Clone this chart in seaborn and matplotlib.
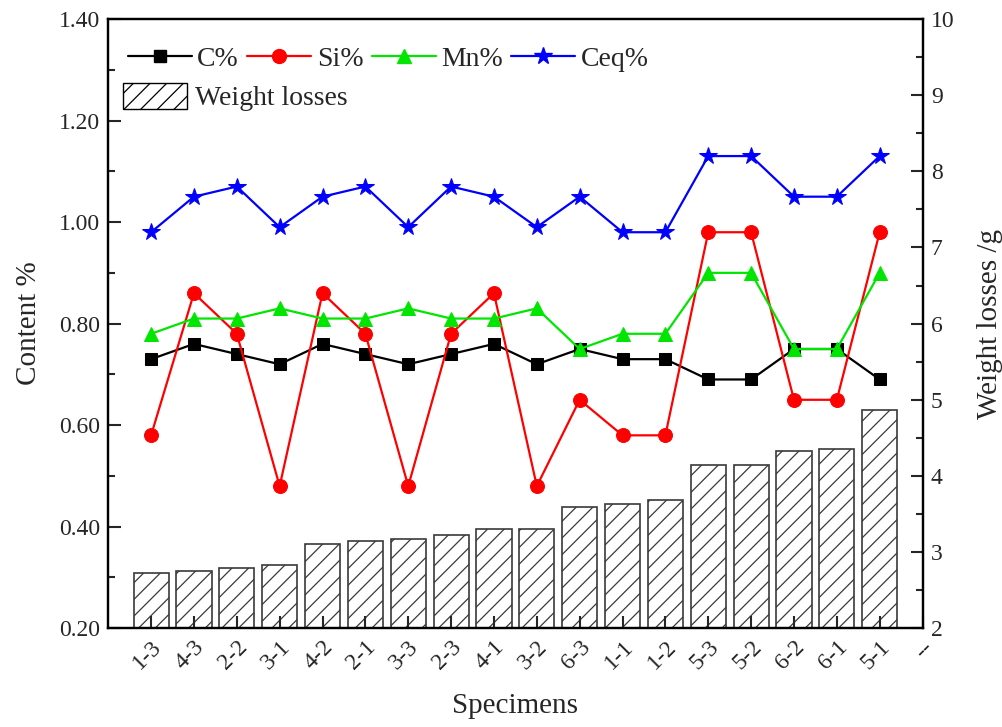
import numpy as np
import pandas as pd
import matplotlib
matplotlib.use("Agg")
import matplotlib.pyplot as plt
from matplotlib.patches import Patch
from matplotlib.lines import Line2D
from matplotlib.ticker import MultipleLocator, FormatStrFormatter
import seaborn as sns

specimens = ["1-3", "4-3", "2-2", "3-1", "4-2", "2-1", "3-3", "2-3", "4-1",
             "3-2", "6-3", "1-1", "1-2", "5-3", "5-2", "6-2", "6-1", "5-1"]
extra_tick_label = "--"
c_pct = [0.73, 0.76, 0.74, 0.72, 0.76, 0.74, 0.72, 0.74, 0.76,
         0.72, 0.75, 0.73, 0.73, 0.69, 0.69, 0.75, 0.75, 0.69]
si_pct = [0.58, 0.86, 0.78, 0.48, 0.86, 0.78, 0.48, 0.78, 0.86,
          0.48, 0.65, 0.58, 0.58, 0.98, 0.98, 0.65, 0.65, 0.98]
mn_pct = [0.78, 0.81, 0.81, 0.83, 0.81, 0.81, 0.83, 0.81, 0.81,
          0.83, 0.75, 0.78, 0.78, 0.90, 0.90, 0.75, 0.75, 0.90]
ceq_pct = [0.98, 1.05, 1.07, 0.99, 1.05, 1.07, 0.99, 1.07, 1.05,
           0.99, 1.05, 0.98, 0.98, 1.13, 1.13, 1.05, 1.05, 1.13]
weight_losses = [2.72, 2.75, 2.79, 2.83, 3.11, 3.15, 3.17, 3.22, 3.30,
                 3.31, 3.59, 3.63, 3.68, 4.14, 4.15, 4.33, 4.36, 4.86]

sns.set_style("ticks")
plt.rcParams["font.family"] = ["Liberation Serif", "DejaVu Serif"]
plt.rcParams["hatch.linewidth"] = 0.9

pos = np.arange(1, len(specimens) + 1)
df = pd.DataFrame({"pos": pos, "C%": c_pct, "Si%": si_pct, "Mn%": mn_pct,
                   "Ceq%": ceq_pct, "wl": weight_losses})

fig = plt.figure(figsize=(10.02, 7.27), dpi=100)
ax = fig.add_axes([0.108, 0.1358, 0.9207 - 0.108, 0.9739 - 0.1358])
ax2 = ax.twinx()

# bars on the right axis (drawn below)
sns.barplot(data=df, x="pos", y="wl", native_scale=True, ax=ax2, width=0.82,
            color="white", edgecolor="#3a3a3a", linewidth=1.2, hatch="//",
            saturation=1)
for p in ax2.patches:
    p.set_facecolor("white")

series = [("C%", "black", "s", 9), ("Si%", "#ff0000", "o", 10),
          ("Mn%", "#00e600", "^", 10), ("Ceq%", "#0000ff", "*", 13)]
handles = []
for name, col, mk, ms in series:
    sns.lineplot(data=df, x="pos", y=name, ax=ax, color=col, marker=mk,
                 markersize=ms, markeredgecolor=col, markerfacecolor=col,
                 linewidth=1.6, legend=False)
    handles.append(Line2D([], [], color=col, marker=mk, markersize=ms,
                          markeredgecolor=col, linewidth=1.6, label=name))

ax.set_zorder(ax2.get_zorder() + 1)
ax.patch.set_visible(False)

ax.set_xlim(0, 19)
ax.set_ylim(0.2, 1.4)
ax2.set_ylim(2, 10)
ax.set_xticks(list(pos) + [19])
ax.set_xticklabels(specimens + [extra_tick_label], rotation=45, ha="right",
                   rotation_mode="anchor", fontsize=17)
ax.yaxis.set_major_locator(MultipleLocator(0.2))
ax.yaxis.set_minor_locator(MultipleLocator(0.1))
ax.yaxis.set_major_formatter(FormatStrFormatter("%.2f"))
ax2.yaxis.set_major_locator(MultipleLocator(1))
ax2.yaxis.set_minor_locator(MultipleLocator(0.5))
ax2.set_xlabel("")

ax.tick_params(axis="both", which="major", direction="in", length=9,
               width=1.5, labelsize=17, pad=6)
ax.tick_params(axis="y", which="minor", direction="in", length=5, width=1.5)
ax.tick_params(axis="x", which="minor", bottom=False)
ax2.tick_params(axis="y", which="major", direction="in", length=9,
                width=1.5, labelsize=17, pad=6)
ax2.tick_params(axis="y", which="minor", direction="in", length=5, width=1.5)

for a in (ax, ax2):
    for s in a.spines.values():
        s.set_linewidth(1.6)
        s.set_color("black")

ax.set_xlabel("Specimens", fontsize=21, labelpad=14)
ax.set_ylabel("Content %", fontsize=21, labelpad=12)
ax2.set_ylabel("Weight losses /g", fontsize=21, labelpad=16)

leg1 = ax.legend(handles=handles, loc="center left",
                 bbox_to_anchor=(0.024, 0.934), ncol=4, frameon=False,
                 fontsize=20, handlelength=2.3, handletextpad=0.2,
                 columnspacing=0.3, borderpad=0, borderaxespad=0)
ax.add_artist(leg1)
bar_handle = Patch(facecolor="white", edgecolor="black", hatch="//",
                   linewidth=1.0, label="Weight losses")
ax.legend(handles=[bar_handle], loc="center left",
          bbox_to_anchor=(0.018, 0.872), frameon=False, fontsize=20,
          handlelength=2.3, handleheight=1.1, handletextpad=0.3,
          borderpad=0, borderaxespad=0)

fig.savefig("out.png", dpi=100)
